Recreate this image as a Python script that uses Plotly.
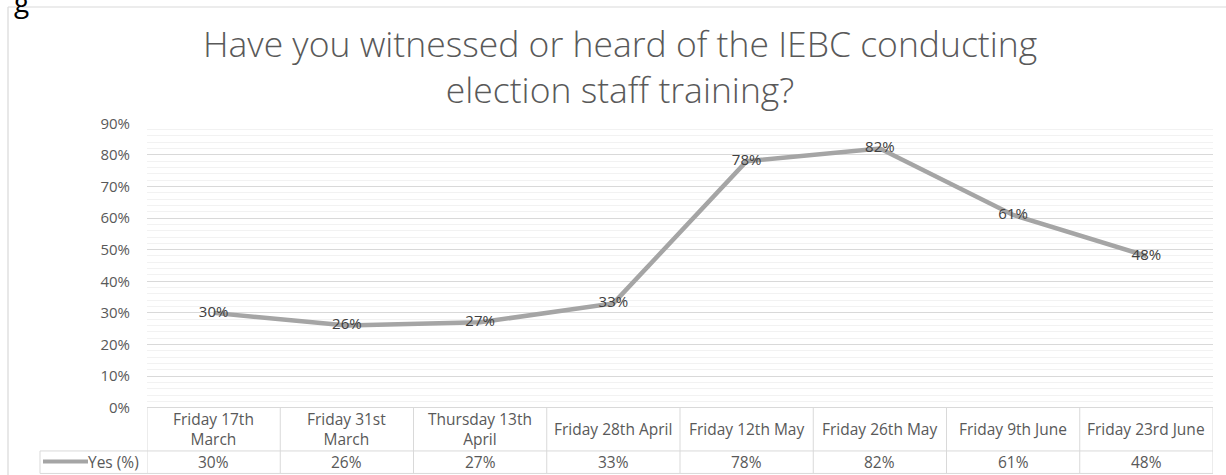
import plotly.graph_objects as go

categories = ["Friday 17th<br>March", "Friday 31st<br>March", "Thursday 13th<br>April",
              "Friday 28th April", "Friday 12th May", "Friday 26th May",
              "Friday 9th June", "Friday 23rd June"]
yes_pct = [0.30, 0.26, 0.27, 0.33, 0.78, 0.82, 0.61, 0.48]
series_name = "Yes (%)"
title_lines = ["Have you witnessed or heard of the IEBC conducting", "election staff training?"]
y_ticks = [0, 0.1, 0.2, 0.3, 0.4, 0.5, 0.6, 0.7, 0.8, 0.9]

W, H = 1226, 475
FONT = "Open Sans"
TXT = "#595959"
GRID = "#D9D9D9"
LINE = "#A5A5A5"
TS = 15
TBL = 15.5

# the rendered page maps to the final picture as pic_y = OFF + S * page_y
OFF, S = 11.0, 0.958


def px_y(y_pic):
    page_y = (y_pic - OFF) / S
    return 1 - page_y / H


def px_x(x):
    return x / W


xs = list(range(len(categories)))

fig = go.Figure()
fig.add_trace(go.Scatter(
    x=xs, y=yes_pct, mode="lines+text", name=series_name,
    line=dict(color=LINE, width=4.5),
    text=[f"{round(v*100)}%" for v in yes_pct],
    textposition="middle center",
    textfont=dict(family=FONT, size=TS, color="#404040"),
    cliponaxis=False, hoverinfo="skip",
))

shapes = []
annotations = []

# outer chart border (left/top)
shapes.append(dict(type="line", xref="paper", yref="paper", x0=px_x(8), x1=px_x(8),
                   y0=px_y(7), y1=px_y(H + 5), line=dict(color=GRID, width=1.2)))
shapes.append(dict(type="line", xref="paper", yref="paper", x0=px_x(8), x1=px_x(W + 5),
                   y0=px_y(7), y1=px_y(7), line=dict(color=GRID, width=1.2)))

# data table lines
row_top, row_mid, row_bot = 407.7, 451, 473.5
for i in range(len(categories) + 1):
    shapes.append(dict(type="line", xref="x", yref="paper", x0=i - 0.5, x1=i - 0.5,
                       y0=px_y(row_top), y1=px_y(row_bot), line=dict(color=GRID, width=1)))
shapes.append(dict(type="line", xref="paper", yref="paper", x0=px_x(40), x1=px_x(40),
                   y0=px_y(row_mid), y1=px_y(row_bot), line=dict(color=GRID, width=1)))
for yy in (row_mid, row_bot):
    shapes.append(dict(type="line", xref="paper", yref="paper", x0=px_x(40), x1=px_x(147),
                       y0=px_y(yy), y1=px_y(yy), line=dict(color=GRID, width=1)))
    shapes.append(dict(type="line", xref="x", yref="paper", x0=-0.5, x1=len(categories) - 0.5,
                       y0=px_y(yy), y1=px_y(yy), line=dict(color=GRID, width=1)))

for i, (c, v) in enumerate(zip(categories, yes_pct)):
    annotations.append(dict(x=i, y=px_y(429.5), xref="x", yref="paper", text=c, showarrow=False,
                            font=dict(family=FONT, size=TBL, color=TXT), align="center",
                            yanchor="middle"))
    annotations.append(dict(x=i, y=px_y(462.5), xref="x", yref="paper", text=f"{round(v*100)}%",
                            showarrow=False, font=dict(family=FONT, size=TBL, color=TXT),
                            yanchor="middle"))

# legend key in table
annotations.append(dict(x=px_x(141), y=px_y(462.5), xref="paper", yref="paper", text=series_name,
                        showarrow=False, xanchor="right", yanchor="middle",
                        font=dict(family=FONT, size=TBL, color=TXT)))
shapes.append(dict(type="line", xref="paper", yref="paper", x0=px_x(43), x1=px_x(88),
                   y0=px_y(461.5), y1=px_y(461.5), line=dict(color=LINE, width=4)))

# title (two lines in one text block)
annotations.append(dict(x=px_x(620), y=px_y(66.5), xref="paper", yref="paper",
                        text="<br>".join(title_lines), align="center",
                        showarrow=False, yanchor="middle",
                        font=dict(family=FONT, size=35.5, color=TXT, weight=300)))

# cut-off caption text above chart
annotations.append(dict(x=px_x(12), y=px_y(1), xref="paper", yref="paper", text="g",
                        showarrow=False, xanchor="left", yanchor="middle",
                        font=dict(family=FONT, size=28, color="#000000")))

fig.update_layout(
    width=W, height=H,
    margin=dict(l=0, r=0, t=0, b=0),
    paper_bgcolor="white", plot_bgcolor="white",
    showlegend=False,
    xaxis=dict(domain=[px_x(147), px_x(1213)], range=[-0.5, len(categories) - 0.5],
               showticklabels=False, showgrid=False, zeroline=False,
               showline=False, fixedrange=True),
    yaxis=dict(domain=[px_y(407.7), px_y(123.3)], range=[0, 0.9],
               tickvals=y_ticks, tickformat=".0%",
               tickfont=dict(family=FONT, size=TS, color=TXT),
               ticklabelstandoff=16,
               showgrid=True, gridcolor=GRID, gridwidth=1.2,
               zeroline=True, zerolinecolor=GRID, zerolinewidth=1.2,
               minor=dict(dtick=0.02, showgrid=True, gridcolor="#F2F2F2", gridwidth=1),
               showline=False, fixedrange=True),
    shapes=shapes, annotations=annotations,
)

fig.write_html("out.html", config={"displayModeBar": False},
               post_script="document.body.style.margin='0';document.body.style.overflow='hidden';")
